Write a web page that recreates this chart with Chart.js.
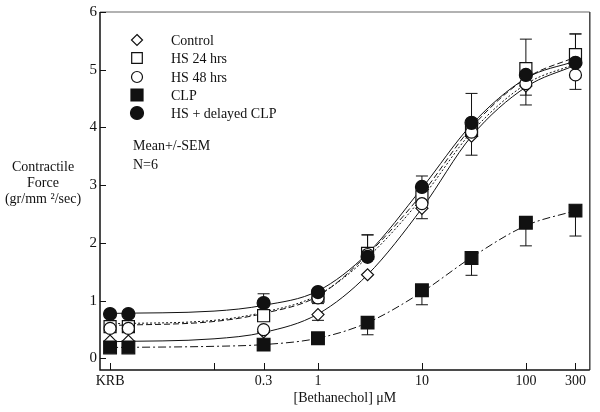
<!doctype html>
<html lang="en">
<head>
<meta charset="utf-8">
<title>Bethanechol dose response</title>
<style>
  body { margin: 0; background: #fff; }
  #wrap { width: 600px; height: 412px; }
</style>
</head>
<body>
<div id="wrap"><canvas id="myChart" width="600" height="412"></canvas></div>
<script src="https://cdn.jsdelivr.net/npm/chart.js"></script>
<script>
// doses (uM), KRB is plotted at 0.01 (two baseline readings)
const doses = [0.01, 0.015, 0.3, 1, 3, 10, 30, 100, 300];
const xTicks = [0.01, 0.1, 0.3, 1, 10, 100, 300];
const xTickLabels = ['KRB', '', '0.3', '1', '10', '100', '300'];
const yTicks = [0, 1, 2, 3, 4, 5, 6];

const names = ['Control', 'HS 24 hrs', 'HS 48 hrs', 'CLP', 'HS + delayed CLP'];

// mean values
const control = [0.30, 0.30, 0.46, 0.76, 1.45, 2.60, 3.85, 4.72, 5.10];
const hs24    = [0.55, 0.55, 0.74, 1.08, 1.82, 2.80, 3.95, 5.02, 5.26];
const hs48    = [0.52, 0.52, 0.50, 1.05, 1.80, 2.68, 3.92, 4.76, 4.91];
const clp     = [0.19, 0.19, 0.24, 0.35, 0.62, 1.18, 1.74, 2.35, 2.56];
const hsClp   = [0.77, 0.77, 0.96, 1.15, 1.76, 2.97, 4.08, 4.91, 5.12];

// SEM, one-sided as drawn (0 = no bar)
const controlErrDown = [0, 0, 0, 0.10, 0, 0.18, 0.33, 0.33, 0];
const hs24ErrUp      = [0, 0, 0, 0, 0.32, 0, 0, 0.08, 0.36];
const hs48ErrDown    = [0, 0, 0, 0.10, 0, 0, 0, 0.20, 0.25];
const clpErrDown     = [0, 0, 0, 0, 0.21, 0.25, 0.30, 0.40, 0.44];
const hsClpErrUp     = [0, 0, 0.16, 0.05, 0.38, 0.19, 0.51, 0.62, 0.50];

// fitted curves
const fitX       = [0.01, 0.1, 0.3, 1, 3, 10, 30, 100, 300];
const fitControl = [0.29, 0.34, 0.45, 0.77, 1.45, 2.60, 3.85, 4.70, 5.08];
const fitHs24    = [0.57, 0.64, 0.78, 1.08, 1.80, 2.85, 4.00, 4.85, 5.22];
const fitHs48    = [0.60, 0.66, 0.80, 1.10, 1.75, 2.78, 3.92, 4.75, 5.10];
const fitClp     = [0.19, 0.21, 0.24, 0.35, 0.62, 1.15, 1.75, 2.30, 2.56];
const fitHsClp   = [0.78, 0.82, 0.92, 1.17, 1.82, 2.95, 4.05, 4.85, 5.15];

const FONT = '"Liberation Serif", "DejaVu Serif", serif';
const INK = '#111';

function pts(xs, ys) {
    return xs.map((x, i) => ({ x: x, y: ys[i] }));
}

function fitLine(ys, dash) {
    return {
        data: pts(fitX, ys),
        showLine: true,
        pointRadius: 0,
        borderColor: INK,
        borderWidth: 1,
        borderDash: dash,
        cubicInterpolationMode: 'monotone',
        order: 10
    };
}

function markers(ys, style, radius, filled, order, up, down) {
    return {
        data: pts(doses, ys),
        showLine: false,
        pointStyle: style,
        pointRadius: radius,
        pointBorderWidth: 1.2,
        pointBorderColor: INK,
        pointBackgroundColor: filled ? INK : '#fff',
        errUp: up,
        errDown: down,
        order: order
    };
}

const series = [
    markers(control, 'rectRot', 6, false, 5, null, controlErrDown),
    markers(hs24, 'rect', 8.5, false, 4, hs24ErrUp, null),
    markers(hs48, 'circle', 6, false, 3, null, hs48ErrDown),
    markers(clp, 'rect', 9, true, 2, null, clpErrDown),
    markers(hsClp, 'circle', 6.5, true, 1, hsClpErrUp, null)
];

const errorBars = {
    id: 'errorBars',
    beforeDatasetsDraw(chart) {
        const ctx = chart.ctx;
        const xs = chart.scales.x, ys = chart.scales.y;
        ctx.save();
        ctx.strokeStyle = INK;
        ctx.lineWidth = 1;
        series.forEach(ds => {
            [[ds.errUp, 1], [ds.errDown, -1]].forEach(([err, sign]) => {
                if (!err) return;
                err.forEach((e, i) => {
                    if (!e) return;
                    const px = xs.getPixelForValue(doses[i]);
                    const p0 = ys.getPixelForValue(ds.data[i].y);
                    const p1 = ys.getPixelForValue(ds.data[i].y + sign * e);
                    ctx.beginPath();
                    ctx.moveTo(px, p0); ctx.lineTo(px, p1);
                    ctx.moveTo(px - 6, p1); ctx.lineTo(px + 6, p1);
                    ctx.stroke();
                });
            });
        });
        ctx.restore();
    }
};

function drawMark(ctx, style, x, y, r, filled) {
    ctx.beginPath();
    if (style === 'circle') {
        ctx.arc(x, y, r, 0, Math.PI * 2);
    } else if (style === 'rect') {
        const s = r * Math.SQRT1_2;
        ctx.rect(x - s, y - s, 2 * s, 2 * s);
    } else {
        ctx.moveTo(x, y - r); ctx.lineTo(x + r, y); ctx.lineTo(x, y + r); ctx.lineTo(x - r, y);
        ctx.closePath();
    }
    ctx.fillStyle = filled ? INK : '#fff';
    ctx.fill();
    ctx.lineWidth = 1.2;
    ctx.strokeStyle = INK;
    ctx.stroke();
}

const frame = {
    id: 'frame',
    afterDraw(chart) {
        const ctx = chart.ctx;
        const a = chart.chartArea;
        const xs = chart.scales.x, ys = chart.scales.y;
        ctx.save();
        ctx.lineWidth = 1.5;
        ctx.strokeStyle = '#999';
        ctx.beginPath(); ctx.moveTo(a.left, a.top); ctx.lineTo(a.right, a.top); ctx.stroke();
        ctx.strokeStyle = '#444';
        ctx.beginPath(); ctx.moveTo(a.right, a.top); ctx.lineTo(a.right, a.bottom); ctx.stroke();
        ctx.strokeStyle = INK;
        ctx.beginPath();
        ctx.moveTo(a.left, a.top); ctx.lineTo(a.left, a.bottom); ctx.lineTo(a.right, a.bottom);
        ctx.stroke();
        // inward tick marks
        ctx.lineWidth = 1;
        ctx.beginPath();
        xTicks.forEach(v => {
            const px = Math.round(xs.getPixelForValue(v)) + 0.5;
            ctx.moveTo(px, a.bottom); ctx.lineTo(px, a.bottom - 7);
        });
        yTicks.forEach(v => {
            const py = Math.round(ys.getPixelForValue(v)) + 0.5;
            ctx.moveTo(a.left, py); ctx.lineTo(a.left + 6, py);
        });
        ctx.stroke();

        // legend
        const styles = series.map(s => [s.pointStyle, s.pointBackgroundColor === INK]);
        const rows = [40, 58, 77, 95, 113];
        const sizes = [5.5, 7.5, 5.5, 8.5, 6.5];
        ctx.font = '14px ' + FONT;
        ctx.fillStyle = INK;
        ctx.textBaseline = 'middle';
        names.forEach((n, i) => {
            drawMark(ctx, styles[i][0], 137, rows[i], sizes[i], styles[i][1]);
            ctx.fillStyle = INK;
            ctx.textAlign = 'left';
            ctx.fillText(n, 171, rows[i] + 1);
        });
        ctx.fillText('Mean+/-SEM', 133, 146);
        ctx.fillText('N=6', 133, 165);

        // y axis title, horizontal
        ctx.textAlign = 'center';
        ctx.fillText('Contractile', 43, 167);
        ctx.fillText('Force', 43, 183);
        ctx.fillText('(gr/mm \u00B2/sec)', 43, 199);
        ctx.restore();
    }
};

const ctx = document.getElementById('myChart');

var chart = new Chart(ctx, {
    type: 'scatter',
    data: {
        datasets: [
            fitLine(fitControl, []),
            fitLine(fitHs24, [6, 3]),
            fitLine(fitHs48, [2, 2]),
            fitLine(fitClp, [8, 3, 2, 3]),
            fitLine(fitHsClp, [])
        ].concat(series)
    },
    options: {
        responsive: false,
        animation: false,
        layout: { padding: { top: 10, right: 10, left: 0, bottom: 0 } },
        plugins: {
            legend: { display: false },
            tooltip: { enabled: false }
        },
        scales: {
            x: {
                type: 'logarithmic',
                min: 0.008,
                max: 412,
                grid: { display: false, drawTicks: false },
                border: { display: false },
                afterBuildTicks: s => { s.ticks = xTicks.map(v => ({ value: v })); },
                afterFit: s => { s.height = 42; },
                ticks: {
                    autoSkip: false,
                    maxRotation: 0,
                    padding: 3,
                    color: INK,
                    font: { family: FONT, size: 14 },
                    callback: v => xTickLabels[xTicks.indexOf(v)]
                },
                title: {
                    display: true,
                    text: '[Bethanechol] \u03BCM',
                    color: INK,
                    font: { family: FONT, size: 14 },
                    padding: { top: 0, bottom: 5 }
                }
            },
            y: {
                min: -0.2,
                max: 6,
                grid: { display: false, drawTicks: false },
                border: { display: false },
                afterBuildTicks: s => { s.ticks = yTicks.map(v => ({ value: v })); },
                afterFit: s => { s.width = 100; },
                ticks: {
                    padding: 3,
                    color: INK,
                    font: { family: FONT, size: 15 }
                }
            }
        }
    },
    plugins: [errorBars, frame]
});
</script>
</body>
</html>
